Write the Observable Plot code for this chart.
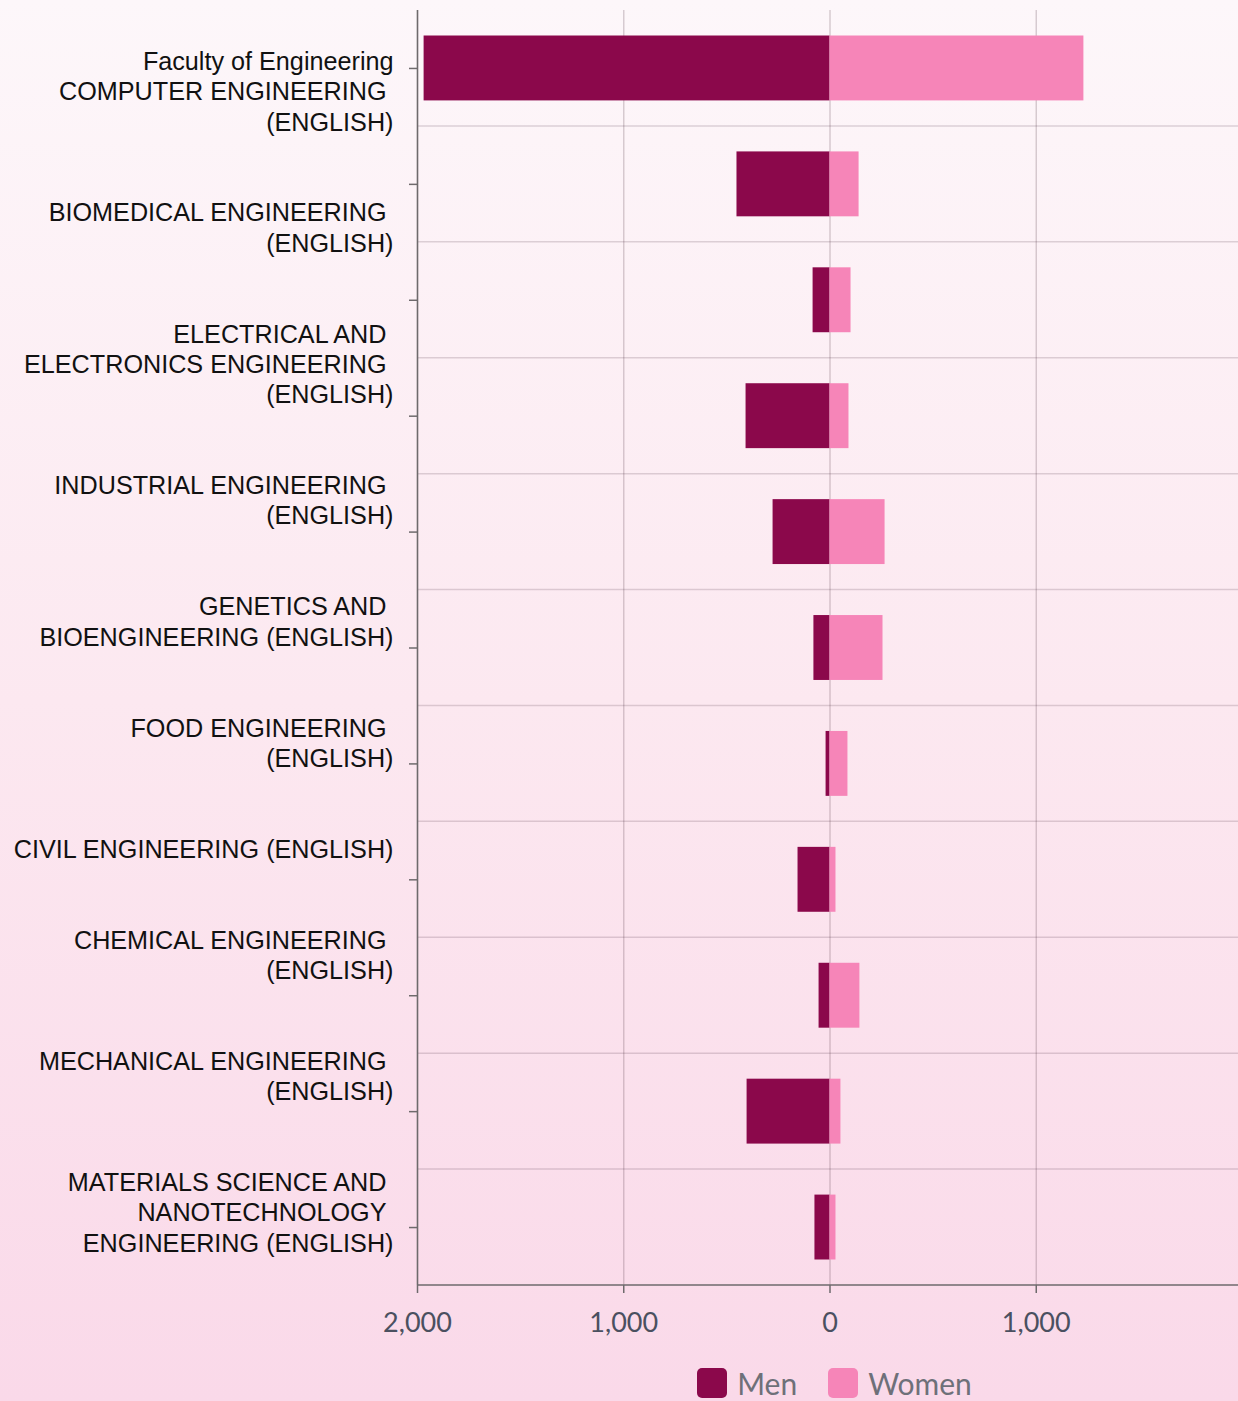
<!DOCTYPE html>
<html><head><meta charset="utf-8">
<script src="https://cdn.jsdelivr.net/npm/d3@7"></script>
<script src="https://cdn.jsdelivr.net/npm/@observablehq/plot@0.6"></script>
<style>
html, body {margin:0; padding:0; width:1238px; height:1401px; overflow:hidden;}
body {background: linear-gradient(to bottom, #fdf7fa 0%, #fce8f0 50%, #fad9e9 100%);}
#chart svg {display:block; background:transparent; overflow:visible; max-width:none !important; width:1242px !important; height:1350px !important;}
#legend {margin-left:422px; width:825px; margin-top:18px;}
#legend .lg-swatches {justify-content:center !important; margin:0 !important; min-height:0 !important; line-height:30px;}
#legend .lg-swatch {margin-right:31px !important; margin-left:0 !important;}
#legend .lg-swatch:last-child {margin-right:0 !important;}
#legend .lg-swatch > svg {margin-right:10px !important;}
#legend .lg-swatch rect {rx:5px; ry:5px;}
</style></head><body>
<div id="chart"></div>
<div id="legend"></div>
<script>
// ---- data ----
const categories = [
  "Faculty of Engineering",
  "COMPUTER ENGINEERING (ENGLISH)",
  "BIOMEDICAL ENGINEERING (ENGLISH)",
  "ELECTRICAL AND ELECTRONICS ENGINEERING (ENGLISH)",
  "INDUSTRIAL ENGINEERING (ENGLISH)",
  "GENETICS AND BIOENGINEERING (ENGLISH)",
  "FOOD ENGINEERING (ENGLISH)",
  "CIVIL ENGINEERING (ENGLISH)",
  "CHEMICAL ENGINEERING (ENGLISH)",
  "MECHANICAL ENGINEERING (ENGLISH)",
  "MATERIALS SCIENCE AND NANOTECHNOLOGY ENGINEERING (ENGLISH)"
];
const labelLines = [
  ["Faculty of Engineering"],
  ["COMPUTER ENGINEERING", "(ENGLISH)"],
  ["BIOMEDICAL ENGINEERING", "(ENGLISH)"],
  ["ELECTRICAL AND", "ELECTRONICS ENGINEERING", "(ENGLISH)"],
  ["INDUSTRIAL ENGINEERING", "(ENGLISH)"],
  ["GENETICS AND", "BIOENGINEERING (ENGLISH)"],
  ["FOOD ENGINEERING", "(ENGLISH)"],
  ["CIVIL ENGINEERING (ENGLISH)"],
  ["CHEMICAL ENGINEERING", "(ENGLISH)"],
  ["MECHANICAL ENGINEERING", "(ENGLISH)"],
  ["MATERIALS SCIENCE AND", "NANOTECHNOLOGY", "ENGINEERING (ENGLISH)"]
];
const men   = [1968, 451, 82, 407, 276, 78, 19, 155, 53, 402, 73];
const women = [1231, 141, 102, 92, 267, 257, 87, 29, 145, 53, 29];
const seriesNames = ["Men", "Women"];
const seriesColors = ["#8b084b", "#f685b8"];
const xTicks = [-2000, -1000, 0, 1000];
const xDomain = [-2000, 2000];

// ---- build ----
const rows = categories.flatMap((c, i) => [
  {program: c, sex: seriesNames[0], value: -men[i]},
  {program: c, sex: seriesNames[1], value: women[i]}
]);

const wrapped = labelLines.map(lines => lines.join("\u00a0\n"));
const labelBlock = wrapped[0] + "\n" + wrapped.slice(1).join("\n\n\n");

const padInner = 0.44;
function bandGrid(index, scales, values, dims) {
  const y = scales.y;
  const step = y.step ? y.step() : y.bandwidth() / (1 - padInner);
  const off = (step - y.bandwidth()) / 2;
  const g = d3.create("svg:g");
  const x1 = dims.marginLeft, x2 = dims.width - dims.marginRight;
  categories.slice(1).forEach(c => {
    const yy = y(c) - off;
    g.append("line").attr("x1", x1).attr("x2", x2).attr("y1", yy).attr("y2", yy)
      .attr("stroke", "rgba(60,30,45,0.17)").attr("stroke-width", 1.5);
  });
  return g.node();
}
function bottomLine(index, scales, values, dims) {
  const yy = dims.height - dims.marginBottom;
  const g = d3.create("svg:g");
  g.append("line").attr("x1", dims.marginLeft).attr("x2", dims.width - dims.marginRight)
    .attr("y1", yy).attr("y2", yy).attr("stroke", "#6e6a6c").attr("stroke-width", 1.6);
  return g.node();
}

const fontSize = 25.2;
const chart = Plot.plot({
  width: 1242,
  height: 1350,
  marginLeft: 417,
  marginRight: 0,
  marginTop: 10,
  marginBottom: 65,
  x: {domain: xDomain},
  y: {domain: categories, paddingInner: padInner, paddingOuter: padInner / 2, round: false},
  color: {domain: seriesNames, range: seriesColors},
  marks: [
    Plot.ruleX(xTicks.slice(1), {stroke: "rgba(60,30,45,0.2)", strokeWidth: 1.5}),
    bandGrid,
    Plot.barX(rows, {x: "value", y: "program", fill: "sex", inset: 0}),
    Plot.ruleX([xDomain[0]], {stroke: "#6e6a6c", strokeWidth: 1.6}),
    bottomLine,
    Plot.axisX({
      ticks: xTicks,
      tickFormat: d => d3.format(",")(Math.abs(d)),
      tickSize: 8, tickPadding: 19,
      stroke: "#6e6a6c", strokeWidth: 1.5,
      fill: "#4a5060",
      fontSize: 27, fontFamily: "Lato",
      label: null
    }),
    Plot.axisY({
      tickSize: 8,
      tickFormat: () => "",
      stroke: "#6e6a6c", strokeWidth: 1.5,
      label: null
    }),
    Plot.text([labelBlock], {
      text: d => d,
      y: () => categories[0],
      frameAnchor: "left",
      textAnchor: "end",
      lineAnchor: "top",
      dx: -24, dy: -20,
      lineHeight: 30.3 / fontSize,
      fontSize: fontSize,
      fontFamily: "Liberation Sans",
      fill: "#111"
    })
  ]
});
document.getElementById("chart").appendChild(chart);

const legend = Plot.legend({
  color: {domain: seriesNames, range: seriesColors},
  swatchSize: 30,
  className: "lg",
  style: {fontFamily: "Lato", fontSize: "30px", color: "#6e7079", background: "transparent"}
});
document.getElementById("legend").appendChild(legend);
</script>
</body></html>
